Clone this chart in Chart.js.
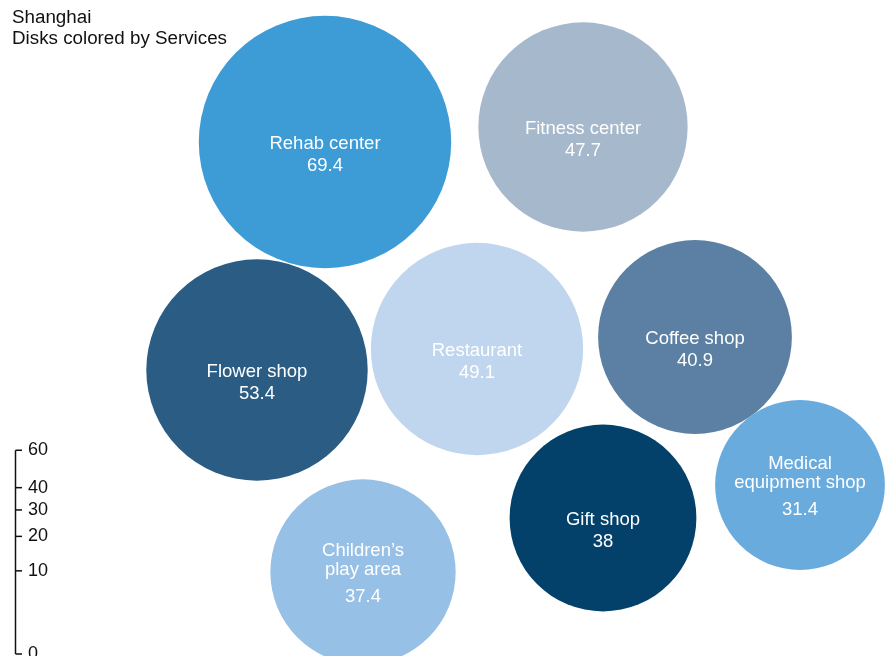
<!DOCTYPE html>
<html>
<head>
<meta charset="utf-8">
<script src="https://cdn.jsdelivr.net/npm/chart.js@4/dist/chart.umd.min.js"></script>
<style>
  body { margin: 0; background: #fff; }
  #wrap { position: relative; width: 890px; height: 656px; }
</style>
</head>
<body>
<div id="wrap"><canvas id="bubbleChart"></canvas></div>
<script>
// Servicios y sus valores
const servicios = [
    ["Rehab center"], ["Fitness center"], ["Flower shop"], ["Restaurant"],
    ["Coffee shop"], ["Gift shop"], ["Medical", "equipment shop"], ["Children\u2019s", "play area"]
];
const valores = [69.4, 47.7, 53.4, 49.1, 40.9, 38, 31.4, 37.4];
// Posición del centro de cada disco (unidades del gráfico)
const posX = [325, 583, 257, 477, 695, 603, 800, 363];
const posY = [142, 127, 370, 349, 337, 518, 485, 572];
const colores = ["#3d9bd6", "#a5b8cc", "#2a5c84", "#c0d6ef", "#5b80a3", "#03416b", "#6aabde", "#97c0e6"];

// Escala de tamaño (raíz cuadrada)
const ticksTamano = [0, 10, 20, 30, 40, 60];
const radioPorRaiz = 15.15;
const FUENTE = '"Liberation Sans", Arial, sans-serif';

// Etiquetas dentro de los discos
const etiquetasPlugin = {
    id: 'etiquetas',
    afterDatasetsDraw(chart) {
        const ctx = chart.ctx;
        const meta = chart.getDatasetMeta(0);
        ctx.save();
        ctx.fillStyle = '#ffffff';
        ctx.font = '18.5px ' + FUENTE;
        ctx.textAlign = 'center';
        ctx.textBaseline = 'middle';
        meta.data.forEach((el, i) => {
            const lineas = servicios[i];
            if (lineas.length === 1) {
                ctx.fillText(lineas[0], el.x, el.y + 2);
                ctx.fillText(String(valores[i]), el.x, el.y + 24);
            } else {
                ctx.fillText(lineas[0], el.x, el.y - 21);
                ctx.fillText(lineas[1], el.x, el.y - 2);
                ctx.fillText(String(valores[i]), el.x, el.y + 25);
            }
        });
        ctx.restore();
    }
};

// Título y leyenda de tamaño
const leyendaPlugin = {
    id: 'leyenda',
    afterDraw(chart) {
        const ctx = chart.ctx;
        const yScale = chart.scales.y;
        ctx.save();
        ctx.fillStyle = '#111';
        ctx.font = '18.8px ' + FUENTE;
        ctx.textAlign = 'left';
        ctx.textBaseline = 'alphabetic';
        ctx.fillText('Shanghai', 12, 23);
        ctx.fillText('Disks colored by Services', 12, 44);

        // eje de tamaños en escala de raíz cuadrada
        const base = yScale.getPixelForValue(654);
        const k = 26.3;
        const top = base - k * Math.sqrt(60);
        ctx.strokeStyle = '#111';
        ctx.lineWidth = 1.5;
        ctx.beginPath();
        ctx.moveTo(15.5, top);
        ctx.lineTo(15.5, base);
        ctx.stroke();
        ctx.font = '18px ' + FUENTE;
        ticksTamano.forEach(t => {
            const y = base - k * Math.sqrt(t);
            ctx.beginPath();
            ctx.moveTo(15.5, y);
            ctx.lineTo(22, y);
            ctx.stroke();
            ctx.fillText(String(t), 28, y + 5);
        });
        ctx.restore();
    }
};

const ctx = document.getElementById('bubbleChart').getContext('2d');
new Chart(ctx, {
    type: 'bubble',
    data: {
        datasets: [{
            data: valores.map((v, i) => ({ x: posX[i], y: posY[i], r: radioPorRaiz * Math.sqrt(v) })),
            backgroundColor: colores,
            hoverBackgroundColor: colores,
            borderWidth: 0,
            hoverBorderWidth: 0,
            hoverRadius: 0,
            clip: false
        }]
    },
    options: {
        responsive: true,
        maintainAspectRatio: false,
        animation: false,
        events: [],
        layout: { padding: 0, autoPadding: false },
        plugins: { legend: { display: false }, tooltip: { enabled: false } },
        scales: {
            x: { type: 'linear', min: 0, max: 890, display: false },
            y: { type: 'linear', min: 0, max: 656, reverse: true, display: false }
        }
    },
    plugins: [etiquetasPlugin, leyendaPlugin]
});
</script>
</body>
</html>
